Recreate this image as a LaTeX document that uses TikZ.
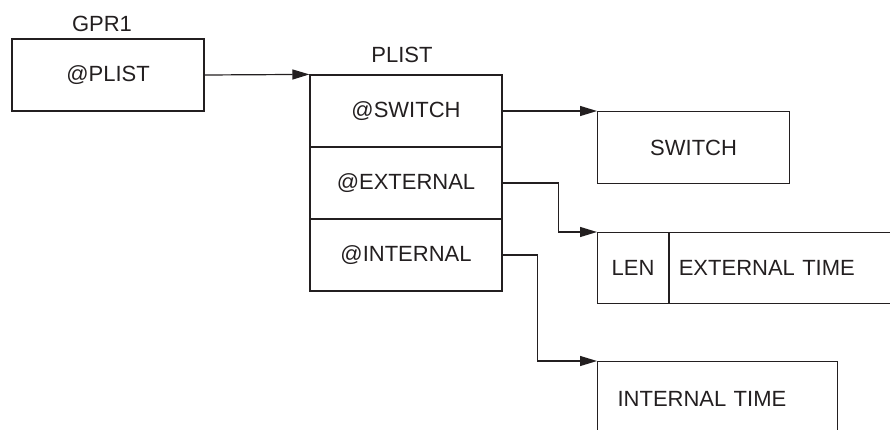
\documentclass[tikz,border=0pt]{standalone}
\usepackage{fontspec}
\setmainfont{Liberation Sans}
\usetikzlibrary{arrows.meta}
\usepackage{xcolor}
\definecolor{traco}{RGB}{35,31,32}
\tikzset{
    caixa/.style={draw=traco, line width=0.6pt, minimum width=96pt, minimum height=36pt,
        inner sep=0pt, text=traco, font=\fontsize{11}{13}\selectfont},
    rotulo/.style={text=traco, font=\fontsize{11}{13}\selectfont},
    seta/.style={draw=traco, line width=0.6pt, -{Triangle[length=8.5pt,width=5pt]}}
}
\begin{document}
\begin{tikzpicture}[x=0.5pt, y=-0.5pt]
    \useasboundingbox (0,0) rectangle (890,429);
    \clip (0,0) rectangle (890,429);
    % Registro GPR1
    \node[rotulo] (lgpr) at (102,24) {GPR1};
    \node[caixa] (gpr) at (108,75) {@PLIST};
    % Lista PLIST
    \node[rotulo] (lplist) at (402,55) {PLIST};
    \node[caixa] (psw) at (406,111) {@SWITCH};
    \node[caixa] (pext) at (406,183) {@EXTERNAL};
    \node[caixa] (pint) at (406,255) {@INTERNAL};
    % Blocos apontados
    \node[caixa, anchor=north west] (sw) at (597,111) {SWITCH};
    \node[caixa, anchor=north west, minimum width=35.5pt, minimum height=35.5pt] (len) at (597,232) {LEN};
    \node[caixa, anchor=north west, minimum height=35.5pt, inner xsep=4.5pt,
        text width=112pt, align=left] (etime) at (len.north east) {EXTERNAL TIME};
    \node[caixa, anchor=north west, minimum height=37pt, inner xsep=10pt,
        text width=100pt, align=left] (itime) at (597,361) {INTERNAL TIME};
    % Ponteiros
    \draw[seta] (gpr.east) -- (psw.north west);
    \draw[seta] (psw.east) -- (sw.north west);
    \draw[seta] (pext.east) -- ++(56,0) |- (len.north west);
    \draw[seta] (pint.east) -- ++(35,0) |- (itime.north west);
\end{tikzpicture}
\end{document}
